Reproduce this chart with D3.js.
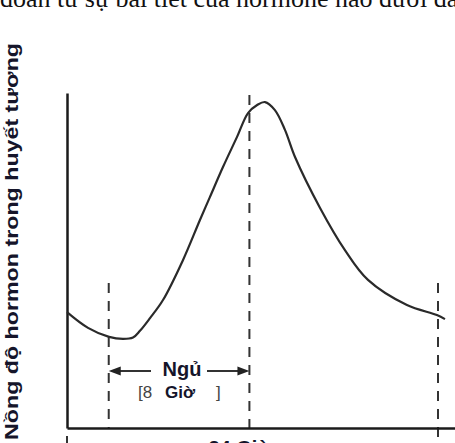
<!DOCTYPE html>
<html>
<head>
<meta charset="utf-8">
<script src="https://cdn.jsdelivr.net/npm/d3@7"></script>
<style>
  html, body { margin: 0; padding: 0; background: #fff; overflow: hidden; }
  svg { display: block; }
</style>
</head>
<body>
<script>
// ---- data ----
const curveTime  = [0, 1.36, 2.72, 3.62, 4.27, 4.72, 5.37, 6.21, 7.50, 8.60, 9.25, 10.09, 11.0, 11.71, 12.30, 12.81, 13.45, 14.10, 14.75, 16.37, 17.98, 19.47, 21.99, 23.93, 24.45];
const curveLevel = [34.6, 29.9, 27.2, 26.6, 27.0, 29.0, 32.8, 38.2, 50.1, 62.1, 69.0, 77.9, 86.9, 94.0, 96.4, 97.3, 94.9, 89.0, 80.9, 65.7, 53.1, 44.2, 36.7, 33.7, 32.5];
const sleepStart = 2.7;
const sleepEnd = 11.8;
const dayEnd = 24;
const yLabel = "Nồng độ hormon trong huyết tương";
const topText = "đoán từ sự bài tiết của hormone nào dưới đây";
const sleepLabel = "Ngủ";
const sleepHoursA = "[8 ";
const sleepHoursB = "Giờ";
const sleepHoursC = "]";
const dayLabel = "24 Giờ";

const W = 455, H = 443;
const svg = d3.select("body").append("svg").attr("width", W).attr("height", H);
svg.append("rect").attr("width", W).attr("height", H).attr("fill", "#fff");

const x = d3.scaleLinear().domain([0, 24]).range([67, 438]);
const y = d3.scaleLinear().domain([0, 100]).range([428, 93]);
const xAxisScale = d3.scaleLinear().domain([0, x.invert(455)]).range([67, 455]);

const ink = "#1b1b1b";

// top cropped sentence
svg.append("text").attr("x", 0).attr("y", 7)
  .attr("font-family", "'Liberation Serif', 'Times New Roman', serif")
  .attr("font-size", 26).attr("fill", "#111").text(topText);

// y label
svg.append("text")
  .attr("transform", "translate(18,440) rotate(-90)")
  .attr("font-family", "'Liberation Sans', Arial, sans-serif")
  .attr("font-weight", "bold").attr("font-size", 18).attr("fill", "#15152a")
  .attr("textLength", 397).attr("lengthAdjust", "spacingAndGlyphs")
  .text(yLabel);

// dashed verticals
const dash = "10,8";
function vdash(t, y0, y1) {
  svg.append("line").attr("x1", x(t)).attr("x2", x(t))
    .attr("y1", y0).attr("y2", y1)
    .attr("stroke", "#333").attr("stroke-width", 2).attr("stroke-dasharray", dash);
}
vdash(sleepStart, 283, y(0));
vdash(sleepEnd, 95, y(0));
vdash(dayEnd, 283, H);
// below-axis bracket tick at left
svg.append("line").attr("x1", x(0)).attr("x2", x(0)).attr("y1", 436).attr("y2", H)
  .attr("stroke", "#333").attr("stroke-width", 2);

// axes
const gy = svg.append("g").attr("transform", `translate(${x(0)},0)`)
  .call(d3.axisLeft(y).ticks(0).tickSizeOuter(0));
const gx = svg.append("g").attr("transform", `translate(0,${y(0)})`)
  .call(d3.axisBottom(xAxisScale).ticks(0).tickSizeOuter(0));
[gy, gx].forEach(g => g.select(".domain").attr("stroke", ink).attr("stroke-width", 2.5));

// curve
const pts = curveTime.map((t, i) => [t, curveLevel[i]]);
svg.append("path").datum(pts)
  .attr("fill", "none").attr("stroke", "#2a2a2a").attr("stroke-width", 2.2)
  .attr("d", d3.line().x(d => x(d[0])).y(d => y(d[1])).curve(d3.curveCatmullRom.alpha(0.5)));

// sleep bracket arrows
const ay = 371;
function arrow(tipX, dir, lineTo) {
  svg.append("line").attr("x1", tipX + dir * 8).attr("x2", lineTo)
    .attr("y1", ay).attr("y2", ay).attr("stroke", "#333").attr("stroke-width", 1.8);
  svg.append("path")
    .attr("d", `M${tipX},${ay} L${tipX + dir * 12},${ay - 4.5} L${tipX + dir * 12},${ay + 4.5} Z`)
    .attr("fill", "#222");
}
arrow(x(sleepStart), 1, 151);
arrow(x(sleepEnd), -1, 207);

svg.append("text").attr("x", 182).attr("y", 376).attr("text-anchor", "middle")
  .attr("font-family", "'Liberation Sans', Arial, sans-serif")
  .attr("font-weight", "bold").attr("font-size", 20).attr("fill", "#15152a")
  .text(sleepLabel);

const t2 = svg.append("text").attr("x", 138).attr("y", 398)
  .attr("font-family", "'Liberation Sans', Arial, sans-serif")
  .attr("font-size", 17).attr("fill", "#333");
t2.append("tspan").attr("fill", "#444").text(sleepHoursA);
t2.append("tspan").attr("x", 165).attr("font-weight", "bold").attr("fill", "#15152a").text(sleepHoursB);
t2.append("tspan").attr("x", 216).attr("fill", "#444").text(sleepHoursC);

// 24h label (cropped by the bottom edge)
svg.append("text").attr("x", 240).attr("y", 455).attr("text-anchor", "middle")
  .attr("font-family", "'Liberation Sans', Arial, sans-serif")
  .attr("font-weight", "bold").attr("font-size", 20).attr("fill", "#15152a")
  .text(dayLabel);
</script>
</body>
</html>
